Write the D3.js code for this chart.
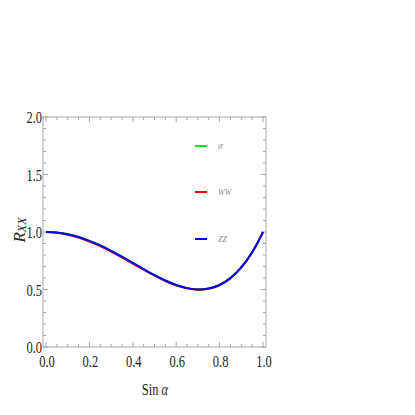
<!DOCTYPE html>
<html lang="en">
<head>
    <meta charset="UTF-8">
    <title>R_XX vs Sin alpha</title>
    <script src="https://d3js.org/d3.v7.min.js"></script>
    <style>
        body { margin: 0; background: white; }
        text { font-family: "Liberation Serif", "DejaVu Serif", serif; }
    </style>
</head>
<body>
    <div id="chart"></div>
    <script>
        // values
        const sinAlpha = [0, 0.05, 0.1, 0.15, 0.2, 0.25, 0.3, 0.35, 0.4, 0.45, 0.5, 0.55, 0.6, 0.65, 0.7, 0.75, 0.8, 0.85, 0.9, 0.95, 0.98, 1.0];
        const rTT = [1.0, 0.995, 0.98, 0.956, 0.923, 0.883, 0.836, 0.785, 0.731, 0.677, 0.625, 0.578, 0.539, 0.512, 0.5, 0.508, 0.539, 0.599, 0.692, 0.824, 0.924, 1.0];
        const rWW = [1.0, 0.993, 0.976, 0.951, 0.917, 0.877, 0.830, 0.779, 0.726, 0.672, 0.620, 0.574, 0.536, 0.510, 0.498, 0.507, 0.539, 0.599, 0.692, 0.824, 0.924, 1.0];
        const rZZ = [1.0, 0.995, 0.98, 0.956, 0.923, 0.883, 0.836, 0.785, 0.731, 0.677, 0.625, 0.578, 0.539, 0.512, 0.5, 0.508, 0.539, 0.599, 0.692, 0.824, 0.924, 1.0];
        const seriesNames = ["tt\u0304", "WW", "ZZ"];
        const seriesColors = ["#00ee00", "#ee0000", "#0000ee"];
        const xTicks = [0, 0.2, 0.4, 0.6, 0.8, 1.0];
        const yTicks = [0, 0.5, 1.0, 1.5, 2.0];

        const W = 415, H = 415;
        const frame = { left: 43, right: 266, top: 117, bottom: 347 };

        const svg = d3.select("#chart").append("svg")
            .attr("width", W).attr("height", H);

        const x = d3.scaleLinear().domain([0, 1]).range([46, 263]);
        const y = d3.scaleLinear().domain([0, 2]).range([frame.bottom, frame.top]);

        const axisColor = "#a8a8a8";

        // frame
        svg.append("rect")
            .attr("x", frame.left).attr("y", frame.top)
            .attr("width", frame.right - frame.left)
            .attr("height", frame.bottom - frame.top)
            .attr("fill", "none").attr("stroke", axisColor).attr("stroke-width", 1);

        // ticks (inward, mirrored on all sides)
        const xMinor = d3.range(0, 1.0001, 0.05);
        const yMinor = d3.range(0, 2.0001, 0.1);
        const isMajorX = v => xTicks.some(t => Math.abs(t - v) < 1e-6);
        const isMajorY = v => yTicks.some(t => Math.abs(t - v) < 1e-6);

        const tickG = svg.append("g").attr("stroke", axisColor).attr("stroke-width", 1);
        xMinor.forEach(v => {
            const len = isMajorX(v) ? 5 : 3;
            tickG.append("line").attr("x1", x(v)).attr("x2", x(v))
                .attr("y1", frame.bottom).attr("y2", frame.bottom - len);
            tickG.append("line").attr("x1", x(v)).attr("x2", x(v))
                .attr("y1", frame.top).attr("y2", frame.top + len);
        });
        yMinor.forEach(v => {
            const len = isMajorY(v) ? 5 : 3;
            tickG.append("line").attr("y1", y(v)).attr("y2", y(v))
                .attr("x1", frame.left).attr("x2", frame.left + len);
            tickG.append("line").attr("y1", y(v)).attr("y2", y(v))
                .attr("x1", frame.right).attr("x2", frame.right - len);
        });

        // tick labels, condensed like the original
        const sx = 0.78;
        svg.selectAll(".xl").data(xTicks).enter().append("text")
            .attr("transform", d => `translate(${x(d) + 1},${frame.bottom + 20}) scale(${sx},1)`)
            .attr("text-anchor", "middle").attr("font-size", 16)
            .attr("fill", "#222")
            .text(d => d.toFixed(1));
        svg.selectAll(".yl").data(yTicks).enter().append("text")
            .attr("transform", d => `translate(${frame.left - 1},${y(d) + 6}) scale(${sx},1)`)
            .attr("text-anchor", "end").attr("font-size", 16)
            .attr("fill", "#222")
            .text(d => d.toFixed(1));

        // axis titles
        const xt = svg.append("text")
            .attr("transform", `translate(155,395) scale(${sx},1)`)
            .attr("text-anchor", "middle").attr("font-size", 16).attr("fill", "#222");
        xt.append("tspan").text("Sin ");
        xt.append("tspan").attr("font-style", "italic").text("\u03b1");

        const yt = svg.append("text")
            .attr("transform", "translate(25,230) rotate(-90)")
            .attr("text-anchor", "middle").attr("font-size", 17).attr("fill", "#222");
        yt.append("tspan").attr("font-style", "italic").text("R");
        yt.append("tspan").attr("font-size", 12).attr("dy", 1).attr("font-style", "italic").text("XX");

        // curves
        const line = d3.line()
            .x((d, i) => x(sinAlpha[i]))
            .y(d => y(d))
            .curve(d3.curveMonotoneX);

        [rTT, rWW, rZZ].forEach((vals, k) => {
            svg.append("path")
                .attr("d", line(vals))
                .attr("fill", "none")
                .attr("stroke", seriesColors[k])
                .attr("stroke-width", 2);
        });

        // legend
        const legendY = [146, 192, 239];
        seriesNames.forEach((name, k) => {
            svg.append("line")
                .attr("x1", 195).attr("x2", 207)
                .attr("y1", legendY[k]).attr("y2", legendY[k])
                .attr("stroke", seriesColors[k]).attr("stroke-width", 2);
            svg.append("text")
                .attr("x", 218).attr("y", legendY[k] + 3)
                .attr("font-size", 8).attr("font-style", "italic")
                .attr("fill", "#888")
                .text(name);
        });
    </script>
</body>
</html>
